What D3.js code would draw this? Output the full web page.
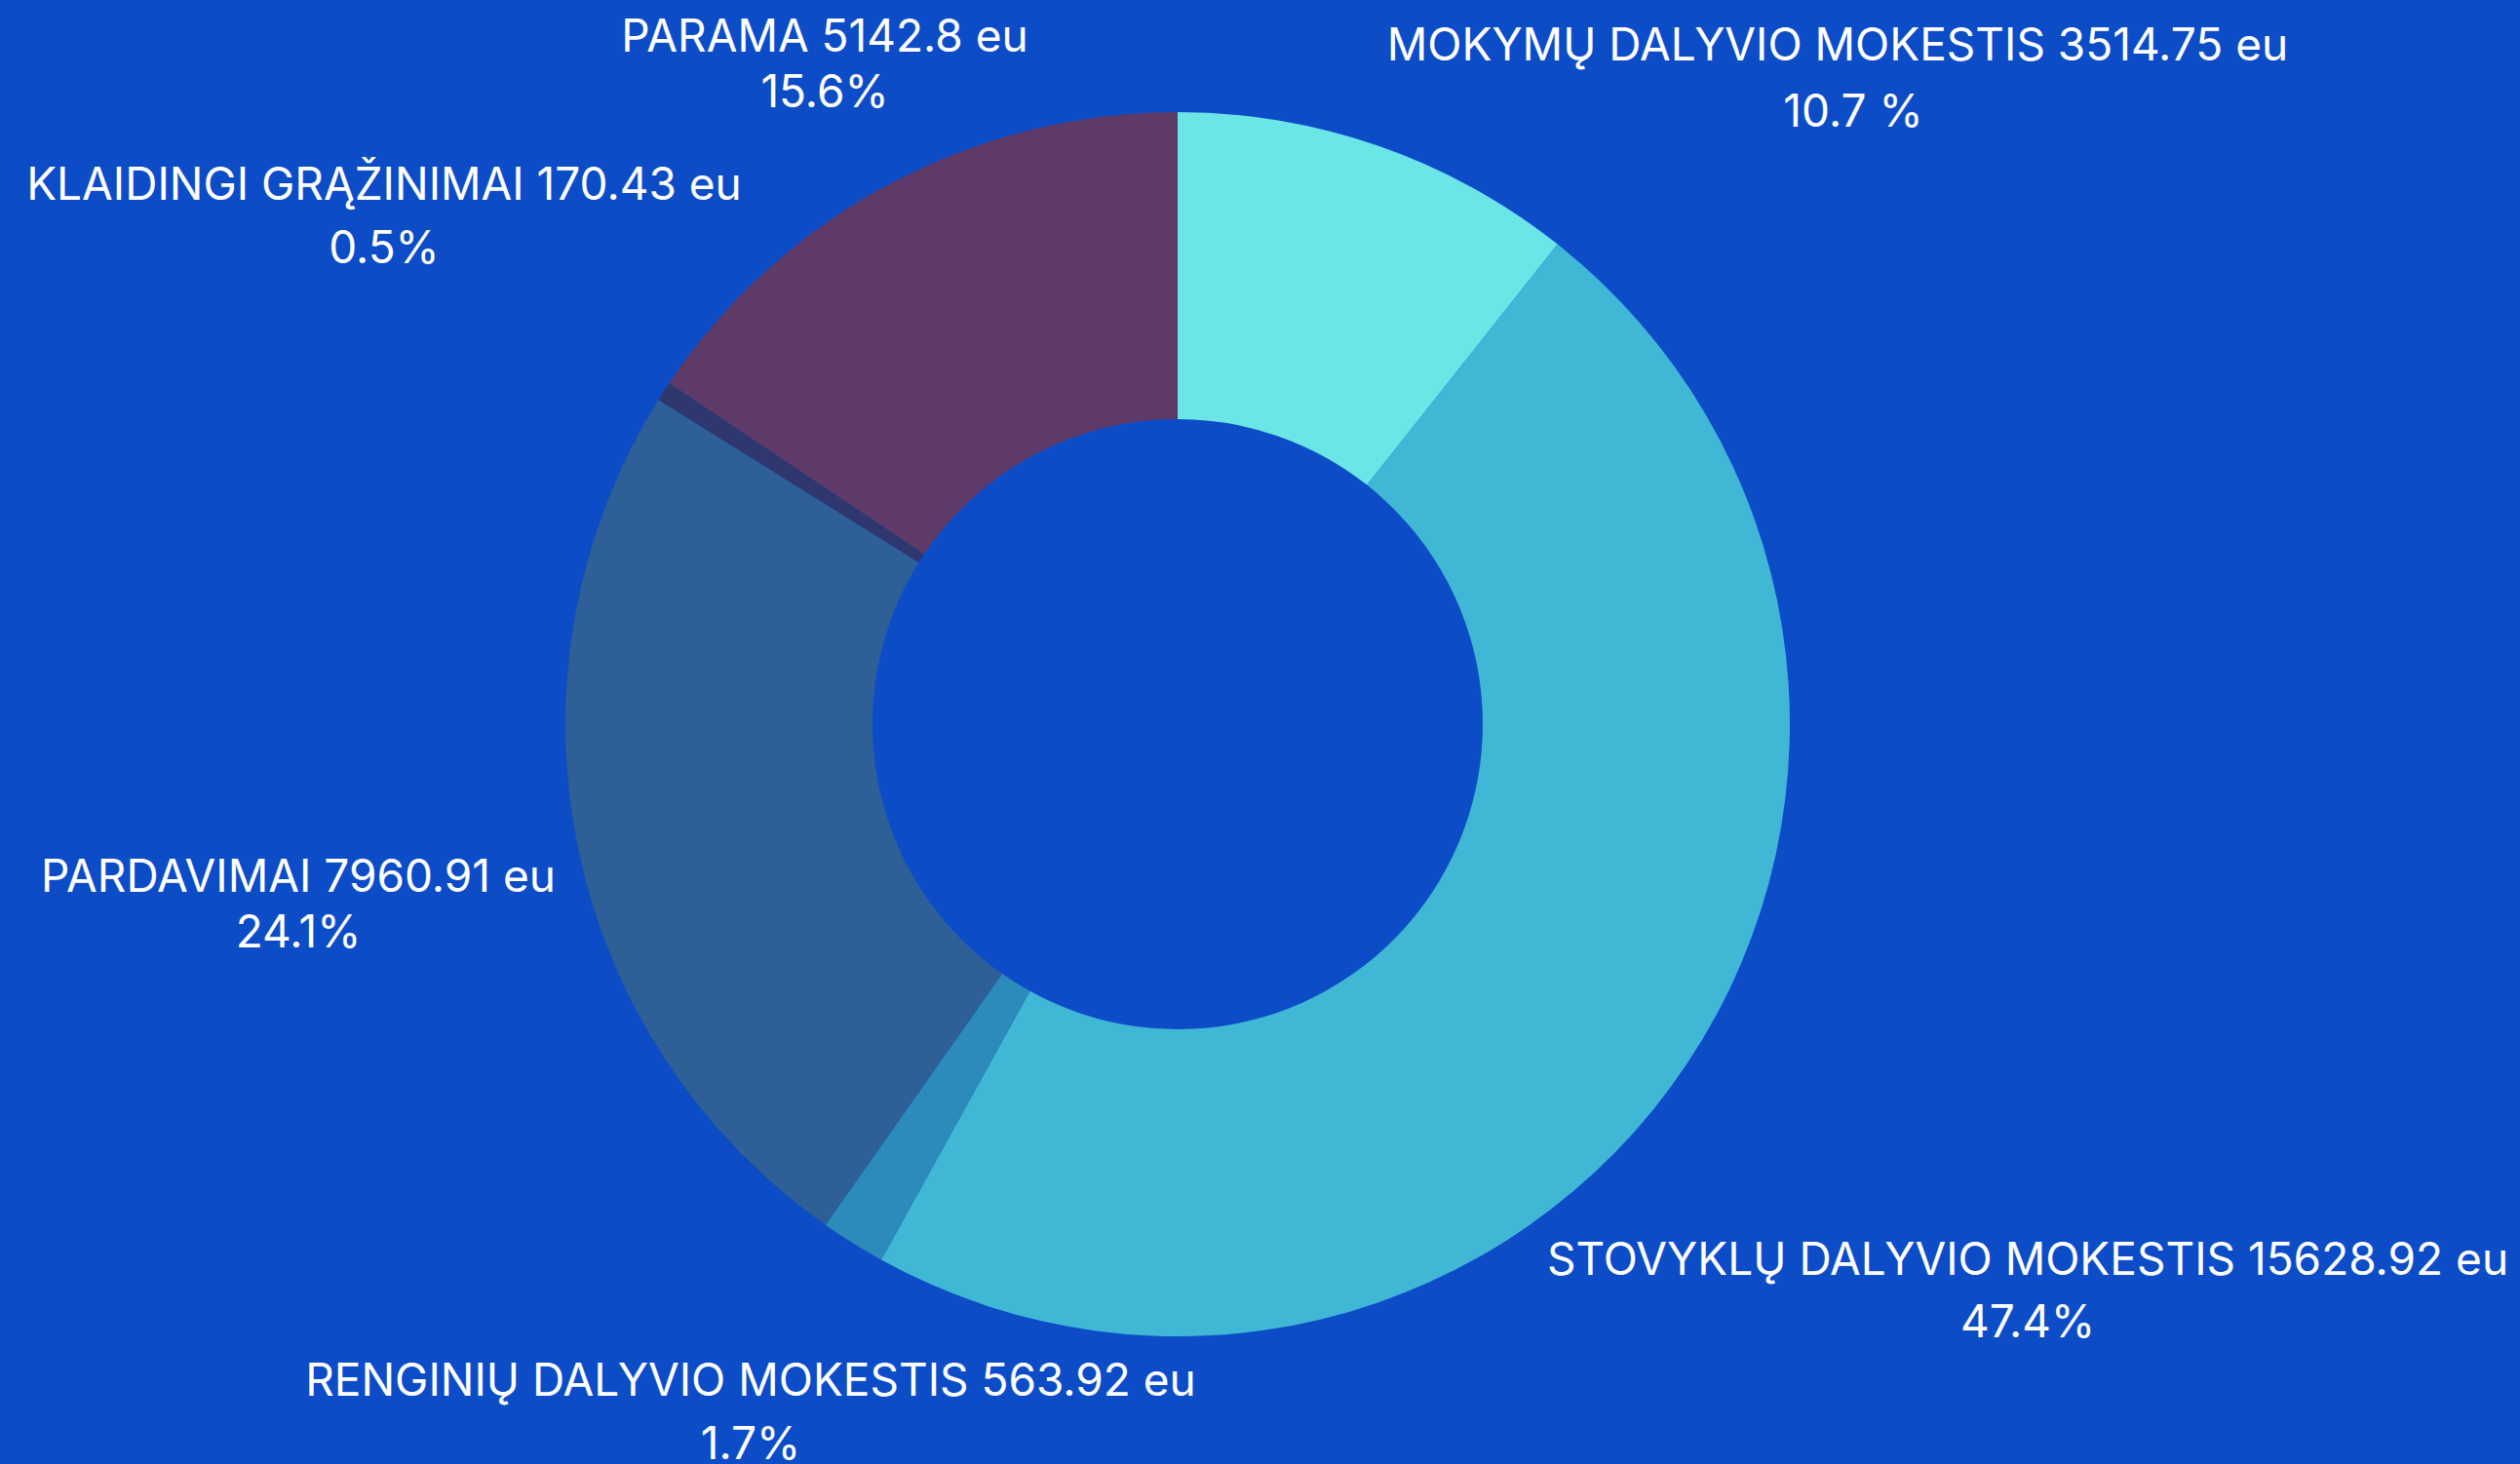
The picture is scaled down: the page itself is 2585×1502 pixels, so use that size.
<!DOCTYPE html>
<html>
<head>
<meta charset="utf-8">
<script src="https://cdn.jsdelivr.net/npm/d3@7"></script>
<style>
    html, body { margin: 0; padding: 0; background: #0c4dc7; overflow: hidden; }
    .label { font-family: Inter, "Noto Sans", sans-serif; fill: #ffffff; font-size: 46px; }
</style>
</head>
<body>
<script>
// data
var categories = [
    "MOKYMŲ DALYVIO MOKESTIS",
    "STOVYKLŲ DALYVIO MOKESTIS",
    "RENGINIŲ DALYVIO MOKESTIS",
    "PARDAVIMAI",
    "KLAIDINGI GRĄŽINIMAI",
    "PARAMA"
];
var amounts = [3514.75, 15628.92, 563.92, 7960.91, 170.43, 5142.8];
var amountLabels = ["3514.75", "15628.92", "563.92", "7960.91", "170.43", "5142.8"];
var percentLabels = ["10.7 %", "47.4%", "1.7%", "24.1%", "0.5%", "15.6%"];

// style / layout
var colors = ["#6be5e6", "#41b7d6", "#2c8bba", "#2e5f97", "#2e376e", "#5e3a68"];
// label anchor: centre x, first line baseline, line gap, 2nd line x shift
var labelAt = [
    [1885, 62, 68, 16],
    [2080, 1308, 64, 0],
    [770, 1432, 65, 0],
    [306, 915, 57, 0],
    [394, 205, 65, 0],
    [846, 53, 57, 0]
];

var width = 2585, height = 1502;
var cx = 1208, cy = 743;
var outerR = 628, innerR = 313;

var svg = d3.select("body").append("svg")
    .attr("width", width)
    .attr("height", height);

svg.append("rect")
    .attr("width", width)
    .attr("height", height)
    .attr("fill", "#0c4dc7");

var data = categories.map(function (c, i) {
    return {name: c, value: amounts[i], color: colors[i], amount: amountLabels[i], pct: percentLabels[i], at: labelAt[i]};
});

var pie = d3.pie()
    .sort(null)
    .value(function (d) { return d.value; });

var arc = d3.arc()
    .innerRadius(innerR)
    .outerRadius(outerR);

var g = svg.append("g")
    .attr("transform", "translate(" + cx + "," + cy + ")");

g.selectAll(".slice")
    .data(pie(data))
    .enter().append("path")
    .attr("class", "slice")
    .attr("d", arc)
    .attr("fill", function (d) { return d.data.color; });

// labels
var labels = svg.selectAll(".label")
    .data(data)
    .enter().append("text")
    .attr("class", "label")
    .attr("text-anchor", "middle");

labels.append("tspan")
    .attr("x", function (d) { return d.at[0]; })
    .attr("y", function (d) { return d.at[1]; })
    .text(function (d) { return d.name + " " + d.amount + " eu"; });

labels.append("tspan")
    .attr("x", function (d) { return d.at[0] + d.at[3]; })
    .attr("y", function (d) { return d.at[1] + d.at[2]; })
    .text(function (d) { return d.pct; });
</script>
</body>
</html>
